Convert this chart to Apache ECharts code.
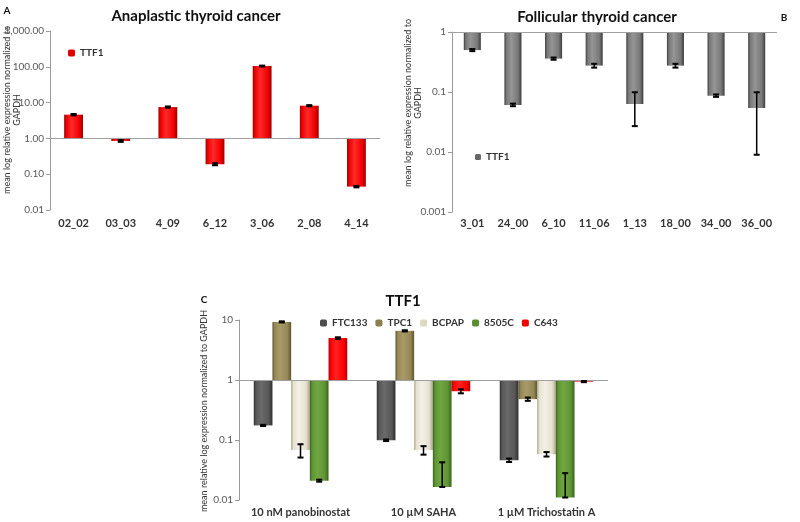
<!DOCTYPE html>
<html>
<head>
<meta charset="utf-8">
<script src="https://cdn.jsdelivr.net/npm/echarts@6/dist/echarts.min.js"></script>
<style>
  html, body { margin: 0; padding: 0; background: #fff; }
  #chart { width: 800px; height: 522px; }
</style>
</head>
<body>
<div id="chart"></div>
<script>
// panel A - anaplastic
var anaCats = ['02_02', '03_03', '4_09', '6_12', '3_06', '2_08', '4_14'];
var anaVals = [4.6, 0.85, 7.5, 0.19, 105, 8.2, 0.045];
var anaErr = [0.2, 0.05, 0.3, 0.012, 3, 0.3, 0.002];
var anaTicks = ['0.01', '0.10', '1.00', '10.00', '100.00', '1,000.00'];

// panel B - follicular
var folCats = ['3_01', '24_00', '6_10', '11_06', '1_13', '18_00', '34_00', '36_00'];
var folVals = [0.5, 0.061, 0.36, 0.275, 0.063, 0.275, 0.087, 0.054];
var folErr = [0.02, 0.003, 0.015, 0.02, 0.036, 0.02, 0.004, 0.045];
var folTicks = ['0.001', '0.01', '0.1', '1'];

// panel C - HDAC inhibitors
var hdCats = ['10 nM panobinostat', '10 µM SAHA', '1 µM Trichostatin A'];
var cellLines = ['FTC133', 'TPC1', 'BCPAP', '8505C', 'C643'];
var ftc133 = [0.175, 0.099, 0.046];
var tpc1 = [9.3, 6.6, 0.48];
var bcpap = [0.068, 0.068, 0.058];
var c8505 = [0.021, 0.0165, 0.011];
var c643 = [5.0, 0.65, 0.94];
var ftc133Err = [0.004, 0.003, 0.003];
var tpc1Err = [0.2, 0.15, 0.03];
var bcpapErr = [0.017, 0.011, 0.005];
var c8505Err = [0.0008, 0.026, 0.017];
var c643Err = [0.15, 0.05, 0.02];
var hdTicks = ['0.01', '0.1', '1', '10'];

var FONT = 'Lato';

function cyl(dark, mid, light) {
    return new echarts.graphic.LinearGradient(0, 0, 1, 0, [
        { offset: 0, color: dark },
        { offset: 0.12, color: mid },
        { offset: 0.4, color: light },
        { offset: 0.8, color: mid },
        { offset: 1, color: dark }
    ]);
}

// error bars drawn on top of bars, nSer bars side by side per category
function errRender(nSer, idx, catGap) {
    return function (params, api) {
        var cat = api.value(0), v = api.value(1), e = api.value(2);
        var band = api.size([1, 0])[0];
        var off = 0;
        if (nSer > 1) {
            var bw = band * (1 - catGap) / nSer;
            off = -bw * nSer / 2 + bw * (idx + 0.5);
        }
        var lo = v - e > 0 ? v - e : v;
        var pHi = api.coord([cat, v + e]);
        var pLo = api.coord([cat, lo]);
        var x = pHi[0] + off;
        var st = { stroke: '#000', lineWidth: 1.5 };
        var cap = { stroke: '#000', lineWidth: 2 };
        return {
            type: 'group',
            children: [
                { type: 'line', shape: { x1: x, y1: pHi[1], x2: x, y2: pLo[1] }, style: st },
                { type: 'line', shape: { x1: x - 3, y1: pHi[1], x2: x + 3, y2: pHi[1] }, style: cap },
                { type: 'line', shape: { x1: x - 3, y1: pLo[1], x2: x + 3, y2: pLo[1] }, style: cap }
            ]
        };
    };
}

function errData(vals, errs) {
    return vals.map(function (v, i) { return [i, v, errs[i]]; });
}

function tickFmt(ticks, minExp) {
    return function (v) {
        var i = Math.round(Math.log10(v)) - minExp;
        return ticks[i] != null ? ticks[i] : '';
    };
}

function yAx(grid, min, max, ticks, minExp) {
    return {
        type: 'log', logBase: 10, gridIndex: grid, min: min, max: max,
        axisLine: { show: true, lineStyle: { color: '#9a9a9a' } },
        axisTick: { show: true, length: 4, lineStyle: { color: '#9a9a9a' } },
        splitLine: { show: false },
        minorTick: { show: false },
        axisLabel: { formatter: tickFmt(ticks, minExp), color: '#595959', fontFamily: FONT, fontSize: 10, margin: 6 }
    };
}

function xAx(grid, cats, margin) {
    return {
        type: 'category', gridIndex: grid, data: cats,
        axisLine: { show: false }, axisTick: { show: false },
        axisLabel: { color: '#333', fontFamily: FONT, fontWeight: 'bold', fontSize: 11, margin: margin, interval: 0 }
    };
}

var oneLine = {
    silent: true, symbol: 'none', label: { show: false },
    lineStyle: { color: '#a0a0a0', type: 'solid', width: 1 },
    data: [{ yAxis: 1 }]
};

var hdSeries = [ftc133, tpc1, bcpap, c8505, c643];
var hdErrs = [ftc133Err, tpc1Err, bcpapErr, c8505Err, c643Err];
var hdCols = [
    ['#2e2e2e', '#575757', '#6a6a6a', '#4d4d4d'],
    ['#5e542c', '#958856', '#a89b68', '#8c7f4f'],
    ['#a8a48f', '#e6e2d0', '#f3f0e4', '#ddd8c2'],
    ['#38611b', '#5f9433', '#70a742', '#5a8c30'],
    ['#b00000', '#ff0000', '#ff2222', '#ee0000']
];
var HD_GAP = 0.24;

var series = [
    {
        name: 'TTF1', type: 'bar', xAxisIndex: 0, yAxisIndex: 0, data: anaVals, barWidth: '40%',
        itemStyle: { color: cyl('#9a0000', '#f00000', '#ff2a2a') }, markLine: oneLine
    },
    {
        name: 'errA', type: 'custom', xAxisIndex: 0, yAxisIndex: 0, z: 5,
        renderItem: errRender(1, 0, 0), data: errData(anaVals, anaErr)
    },
    {
        name: 'TTF1', type: 'bar', xAxisIndex: 1, yAxisIndex: 1, data: folVals, barWidth: '42%',
        itemStyle: { color: cyl('#3d3d3d', '#787878', '#959595') }, markLine: oneLine
    },
    {
        name: 'errB', type: 'custom', xAxisIndex: 1, yAxisIndex: 1, z: 5,
        renderItem: errRender(1, 0, 0), data: errData(folVals, folErr)
    }
];

hdSeries.forEach(function (vals, i) {
    var c = hdCols[i];
    series.push({
        name: cellLines[i], type: 'bar', xAxisIndex: 2, yAxisIndex: 2, data: vals,
        barGap: 0, barCategoryGap: (HD_GAP * 100) + '%',
        itemStyle: { color: cyl(c[0], c[1], c[2]) },
        markLine: i === 0 ? oneLine : undefined
    });
});
hdSeries.forEach(function (vals, i) {
    series.push({
        name: 'errC' + i, type: 'custom', xAxisIndex: 2, yAxisIndex: 2, z: 5,
        renderItem: errRender(5, i, HD_GAP), data: errData(vals, hdErrs[i])
    });
});

var legText = { fontFamily: FONT, fontWeight: 'bold', fontSize: 10, color: '#333' };

var option = {
    animation: false,
    backgroundColor: '#fff',
    grid: [
        { left: 50, top: 31, width: 330, height: 179 },
        { left: 452, top: 32, width: 325, height: 180 },
        { left: 239, top: 320, width: 369, height: 180 }
    ],
    xAxis: [xAx(0, anaCats, 8), xAx(1, folCats, 6), xAx(2, hdCats, 7)],
    yAxis: [
        yAx(0, 0.01, 1000, anaTicks, -2),
        yAx(1, 0.001, 1, folTicks, -3),
        yAx(2, 0.01, 10, hdTicks, -2)
    ],
    legend: [
        {
            left: 63, top: 43, itemWidth: 7, itemHeight: 7, itemGap: 3, textStyle: legText,
            data: [{ name: 'TTF1', itemStyle: { color: '#e00000' } }]
        },
        {
            left: 470, top: 147, itemWidth: 6, itemHeight: 6, textStyle: legText,
            data: [{ name: 'TTF1', itemStyle: { color: '#666' } }]
        },
        {
            left: 315, top: 313, itemWidth: 7, itemHeight: 7, itemGap: 8, textStyle: legText,
            data: cellLines.map(function (n, i) { return { name: n, itemStyle: { color: hdCols[i][3] } }; })
        }
    ],
    graphic: [
        { type: 'text', x: 196, y: 16, style: { text: 'Anaplastic thyroid cancer', font: 'bold 15px ' + FONT, fill: '#111', align: 'center', verticalAlign: 'middle' } },
        { type: 'text', x: 597, y: 17, style: { text: 'Follicular thyroid cancer', font: 'bold 15px ' + FONT, fill: '#111', align: 'center', verticalAlign: 'middle' } },
        { type: 'text', x: 403, y: 301, style: { text: 'TTF1', font: 'bold 15px ' + FONT, fill: '#111', align: 'center', verticalAlign: 'middle' } },
        { type: 'text', x: 7, y: 11, style: { text: 'A', font: 'bold 10px ' + FONT, fill: '#111', align: 'center', verticalAlign: 'middle' } },
        { type: 'text', x: 784, y: 18, style: { text: 'B', font: 'bold 10px ' + FONT, fill: '#111', align: 'center', verticalAlign: 'middle' } },
        { type: 'text', x: 204, y: 300, style: { text: 'C', font: 'bold 10px ' + FONT, fill: '#111', align: 'center', verticalAlign: 'middle' } },
        { type: 'text', x: 12, y: 110, rotation: Math.PI / 2, style: { text: 'mean log relative expression normalized to\nGAPDH', font: '9px ' + FONT, fill: '#333', align: 'center', verticalAlign: 'middle', lineHeight: 10 } },
        { type: 'text', x: 413, y: 103, rotation: Math.PI / 2, style: { text: 'mean log relative expression normalized to\nGAPDH', font: '9px ' + FONT, fill: '#333', align: 'center', verticalAlign: 'middle', lineHeight: 10 } },
        { type: 'text', x: 204, y: 411, rotation: Math.PI / 2, style: { text: 'mean relative log expression normalized to GAPDH', font: '9px ' + FONT, fill: '#333', align: 'center', verticalAlign: 'middle' } }
    ],
    series: series
};

var chart = echarts.init(document.getElementById('chart'));
chart.setOption(option);
</script>
</body>
</html>
